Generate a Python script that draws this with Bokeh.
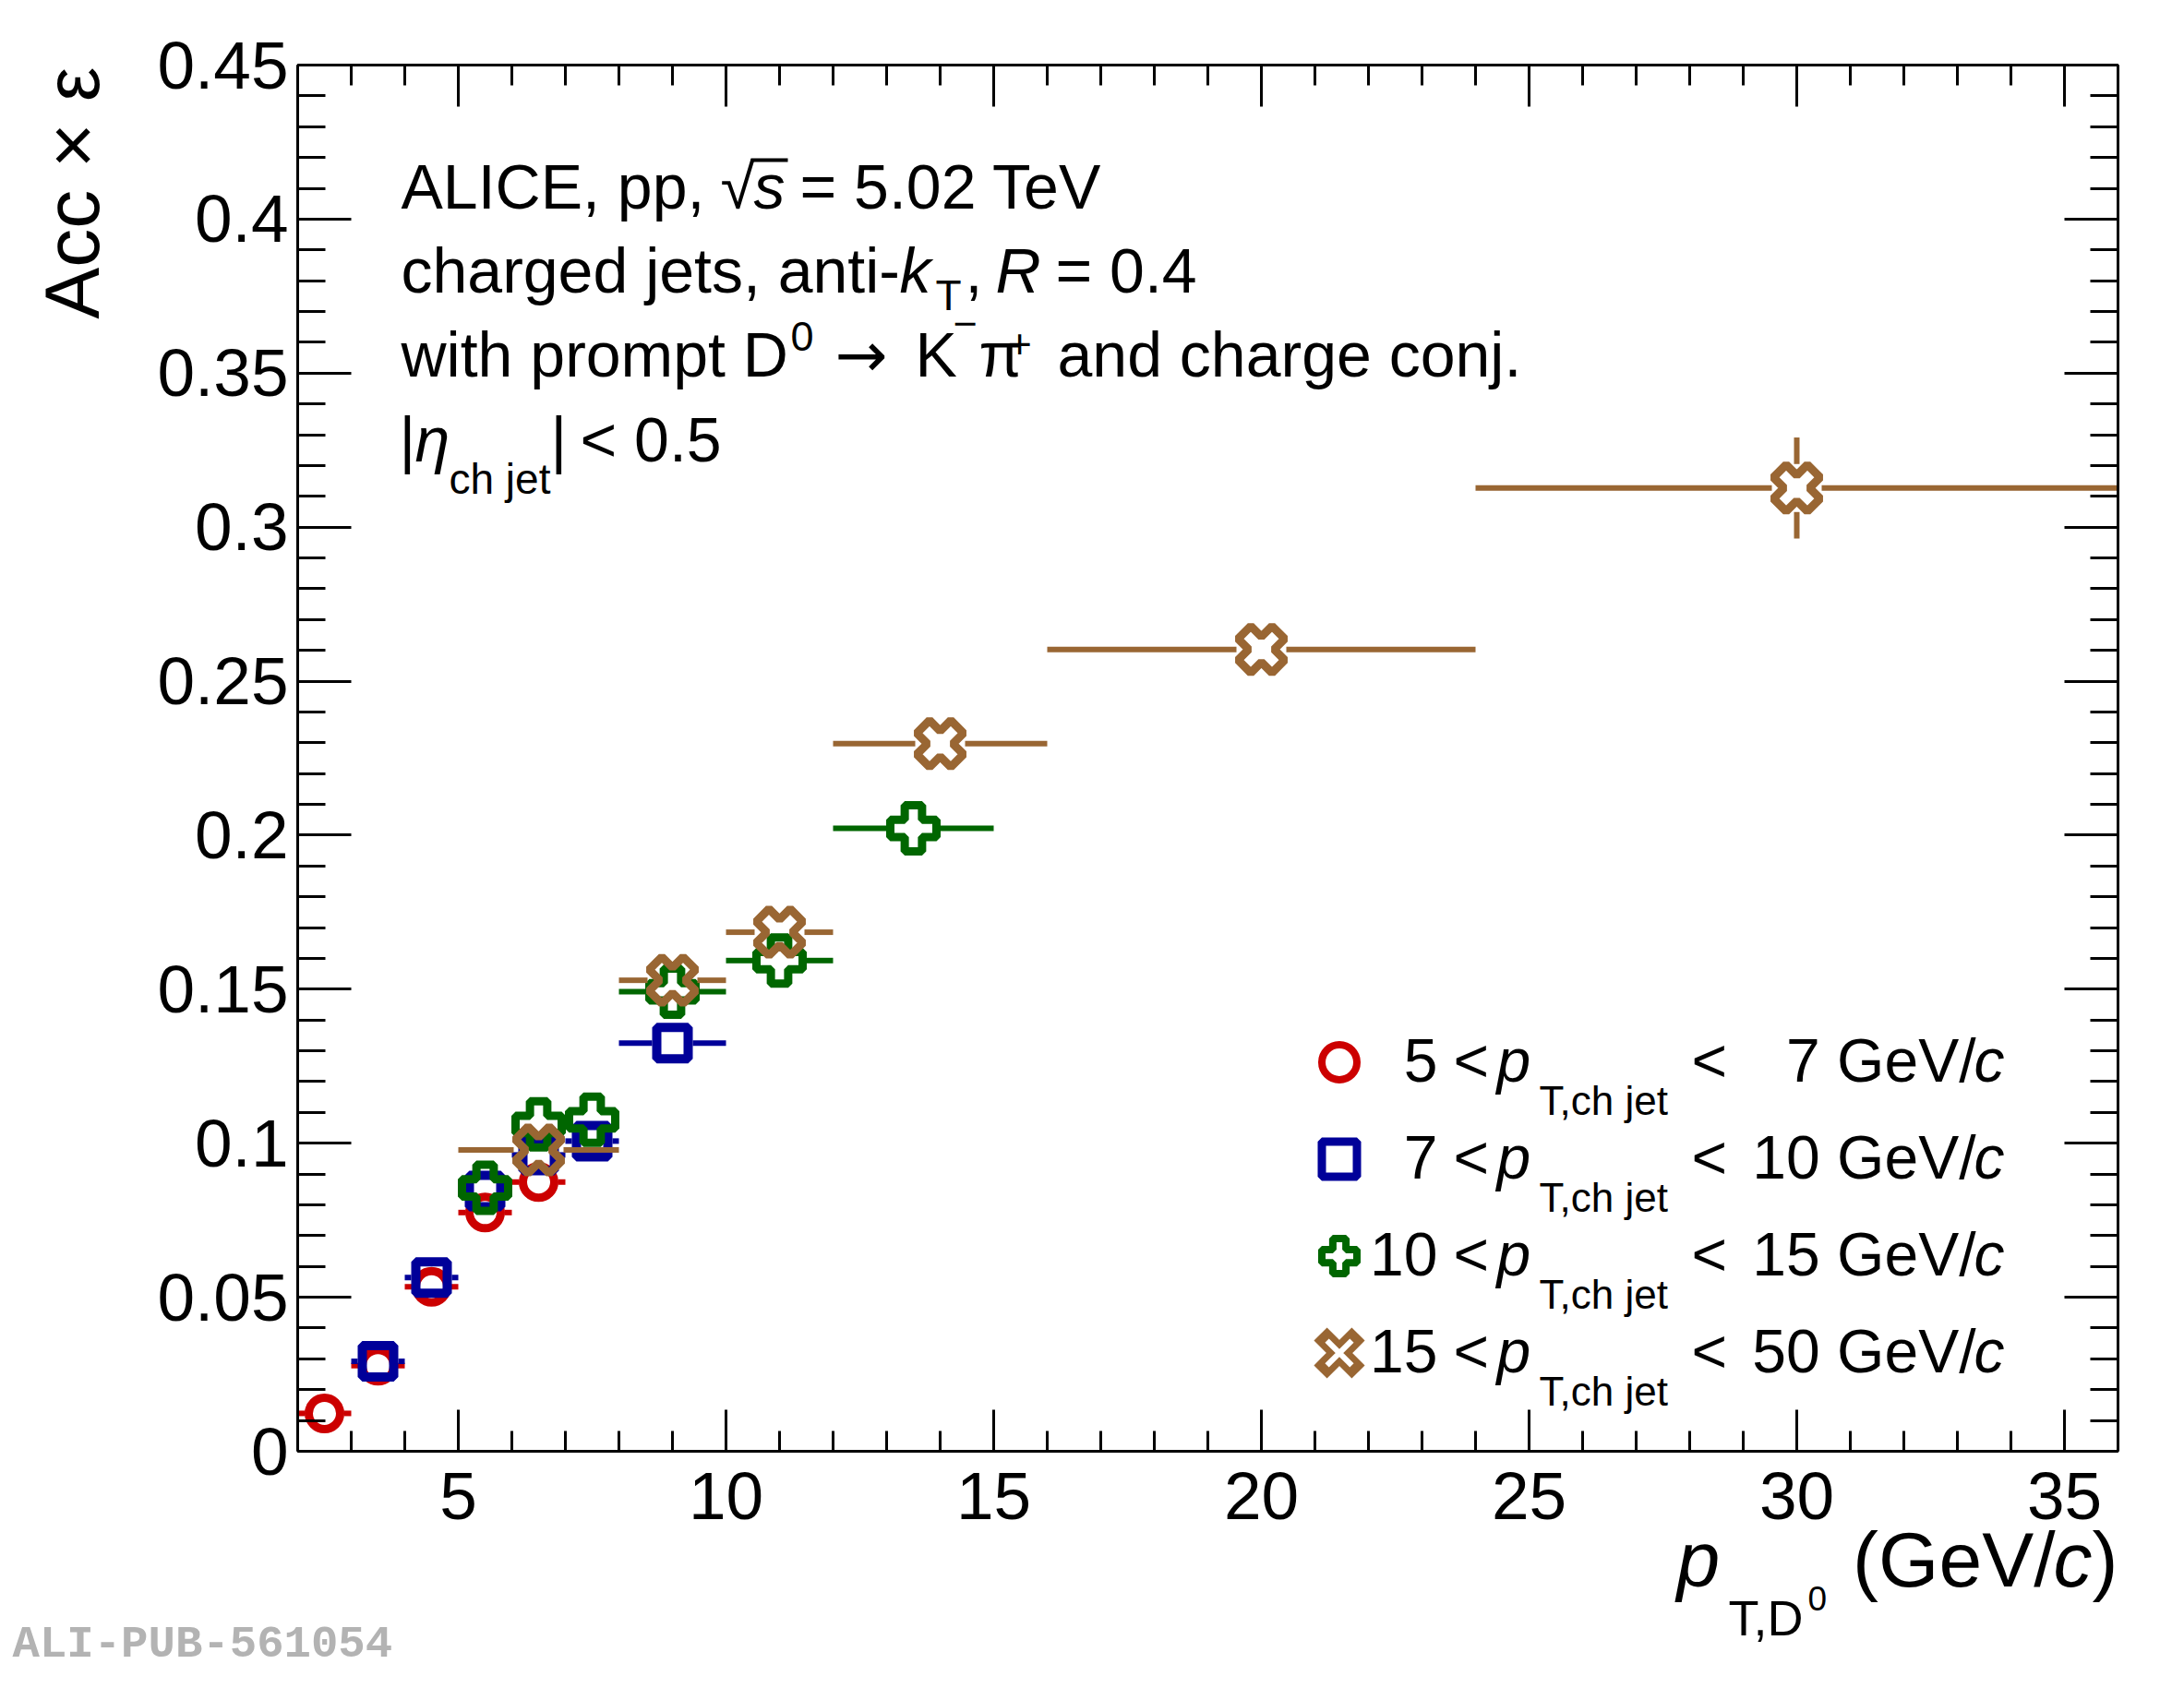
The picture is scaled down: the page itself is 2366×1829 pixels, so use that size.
import math
import numpy as np
from bokeh.plotting import figure
from bokeh.models import (Range1d, FixedTicker, CustomJSTickFormatter, LinearAxis,
                          Label, Legend, LegendItem, BoxAnnotation)
from bokeh.core.properties import value
from bokeh.embed import file_html
from bokeh.resources import INLINE

# ---------------- data ----------------
X_RANGE = (2, 36)
Y_RANGE = (0, 0.45)
X_TICKS = [5, 10, 15, 20, 25, 30, 35]
X_TICK_LABELS = ["5", "10", "15", "20", "25", "30", "35"]
X_MINOR = list(range(2, 37))
Y_TICKS = [0, 0.05, 0.1, 0.15, 0.2, 0.25, 0.3, 0.35, 0.4, 0.45]
Y_TICK_LABELS = ["0", "0.05", "0.1", "0.15", "0.2", "0.25", "0.3", "0.35", "0.4", "0.45"]
Y_MINOR = [round(0.01 * i, 2) for i in range(46)]

# 5 < pT,ch jet < 7 GeV/c
RED_X = [2.5, 3.5, 4.5, 5.5, 6.5]
RED_XLO = [2, 3, 4, 5, 6]
RED_XHI = [3, 4, 5, 6, 7]
RED_Y = [0.0123, 0.0278, 0.0534, 0.0775, 0.0874]
RED_YERR = [0.0006, 0.0008, 0.0010, 0.0012, 0.0015]

# 7 < pT,ch jet < 10 GeV/c
BLUE_X = [3.5, 4.5, 5.5, 6.5, 7.5, 9.0]
BLUE_XLO = [3, 4, 5, 6, 7, 8]
BLUE_XHI = [4, 5, 6, 7, 8, 10]
BLUE_Y = [0.0292, 0.0564, 0.0845, 0.0962, 0.1007, 0.1325]
BLUE_YERR = [0.0008, 0.0010, 0.0012, 0.0014, 0.0016, 0.0020]

# 10 < pT,ch jet < 15 GeV/c
GREEN_X = [5.5, 6.5, 7.5, 9.0, 11.0, 13.5]
GREEN_XLO = [5, 6, 7, 8, 10, 12]
GREEN_XHI = [6, 7, 8, 10, 12, 15]
GREEN_Y = [0.0855, 0.1061, 0.1076, 0.1492, 0.1593, 0.2022]
GREEN_YERR = [0.0015, 0.0018, 0.0020, 0.0025, 0.0030, 0.0040]

# 15 < pT,ch jet < 50 GeV/c
BROWN_X = [6.5, 9.0, 11.0, 14.0, 20.0, 30.0]
BROWN_XLO = [5, 8, 10, 12, 16, 24]
BROWN_XHI = [8, 10, 12, 16, 24, 36]
BROWN_Y = [0.0978, 0.1529, 0.1685, 0.2297, 0.2603, 0.3127]
BROWN_YERR = [0.0040, 0.0075, 0.0050, 0.0040, 0.0050, 0.0164]

LEG_LOW = ["5", "7", "10", "15"]
LEG_HIGH = ["7", "10", "15", "50"]

RED, BLUE, GREEN, BROWN = "#cc0000", "#000099", "#006600", "#996633"
FONT = "Liberation Sans"

# ---------------- layout ----------------
# The Bokeh frame fills the whole canvas; the visible plot box is drawn by four
# axes pinned (fixed_location) to the edges of the data window.
W, H = 2350, 1813
BL, BT, FW, FH = 322, 70, 1972, 1502          # plot box inside the canvas
BR = W - BL - FW
BB = H - BT - FH
PX_X = FW / (X_RANGE[1] - X_RANGE[0])
PX_Y = FH / (Y_RANGE[1] - Y_RANGE[0])
XR = Range1d(X_RANGE[0] - BL / PX_X, X_RANGE[1] + BR / PX_X)
YR = Range1d(Y_RANGE[0] - BB / PX_Y, Y_RANGE[1] + BT / PX_Y)
MID = 0.36  # baseline -> text middle, as a fraction of the font size

p = figure(width=W, height=H, x_range=XR, y_range=YR,
           output_backend="svg", toolbar_location=None,
           x_axis_location=None, y_axis_location=None,
           min_border_left=0, min_border_right=0, min_border_top=0, min_border_bottom=0)
p.xgrid.visible = False
p.ygrid.visible = False
p.outline_line_color = None
p.background_fill_color = "white"
p.border_fill_color = "white"

def tick_fmt(tk, lb):
    return CustomJSTickFormatter(args=dict(tk=tk, lb=lb),
        code="const i = tk.findIndex(t => Math.abs(t - tick) < 1e-9); return i >= 0 ? lb[i] : '';")

blank = CustomJSTickFormatter(code="return '';")

def make_axis(is_x, labels, loc):
    ax = LinearAxis(fixed_location=loc)
    ax.axis_line_width = 3
    ax.major_tick_line_width = 3
    ax.minor_tick_line_width = 3
    ax.major_tick_out = 0
    ax.minor_tick_out = 0
    if is_x:
        ax.bounds = X_RANGE
        ax.major_tick_in = 45
        ax.minor_tick_in = 22
        ax.ticker = FixedTicker(ticks=X_TICKS, minor_ticks=X_MINOR)
        ax.formatter = tick_fmt(X_TICKS, X_TICK_LABELS) if labels else blank
        ax.major_label_standoff = 23
    else:
        ax.bounds = Y_RANGE
        ax.major_tick_in = 58
        ax.minor_tick_in = 30
        ax.ticker = FixedTicker(ticks=Y_TICKS, minor_ticks=Y_MINOR)
        ax.formatter = tick_fmt(Y_TICKS, Y_TICK_LABELS) if labels else blank
        ax.major_label_standoff = 10
    ax.major_label_text_font = FONT
    ax.major_label_text_font_size = "73px" if labels else "1px"
    ax.major_label_text_color = "black"
    return ax

p.add_layout(make_axis(True, True, Y_RANGE[0]), "below")
p.add_layout(make_axis(True, False, Y_RANGE[1]), "above")
p.add_layout(make_axis(False, True, X_RANGE[0]), "left")
p.add_layout(make_axis(False, False, X_RANGE[1]), "right")

# ---------------- error bars & markers ----------------
def error_bars(xs, ys, xlo, xhi, yerr, color, gx_px, gy_px):
    gx = gx_px / PX_X
    gy = gy_px / PX_Y
    x0, x1, y0, y1 = [], [], [], []
    for x, y, lo, hi, e in zip(xs, ys, xlo, xhi, yerr):
        if x - gx > lo:
            x0 += [lo]; x1 += [x - gx]; y0 += [y]; y1 += [y]
        if x + gx < hi:
            x0 += [x + gx]; x1 += [hi]; y0 += [y]; y1 += [y]
        if e > gy:
            x0 += [x, x]; x1 += [x, x]; y0 += [y - e, y + gy]; y1 += [y - gy, y + e]
    p.segment(x0=x0, y0=y0, x1=x1, y1=y1, line_color=color, line_width=6, line_cap="butt")

error_bars(RED_X, RED_Y, RED_XLO, RED_XHI, RED_YERR, RED, 21, 21)
r_red = p.scatter(RED_X, RED_Y, marker="circle", size=34, line_width=9,
                  line_color=RED, fill_color=None)
error_bars(BLUE_X, BLUE_Y, BLUE_XLO, BLUE_XHI, BLUE_YERR, BLUE, 22, 22)
r_blue = p.scatter(BLUE_X, BLUE_Y, marker="square", size=34, line_width=10,
                   line_color=BLUE, fill_color=None)
error_bars(GREEN_X, GREEN_Y, GREEN_XLO, GREEN_XHI, GREEN_YERR, GREEN, 28, 28)
r_green = p.scatter(GREEN_X, GREEN_Y, marker="plus", size=50, line_width=9,
                    line_color=GREEN, fill_color=None)
error_bars(BROWN_X, BROWN_Y, BROWN_XLO, BROWN_XHI, BROWN_YERR, BROWN, 27, 26)
r_brown = p.scatter(BROWN_X, BROWN_Y, marker="plus", angle=math.pi / 4, size=52, line_width=9,
                    line_color=BROWN, fill_color=None)

# legend glyph renderers (hidden in the plot, drawn only in the legend)
lg_red = p.scatter(RED_X, RED_Y, marker="circle", size=34, line_width=8,
                   line_color=RED, fill_color=None, visible=False)
lg_blue = p.scatter(BLUE_X, BLUE_Y, marker="square", size=34, line_width=9,
                    line_color=BLUE, fill_color=None, visible=False)
lg_green = p.scatter(GREEN_X, GREEN_Y, marker="plus", size=40, line_width=8,
                     line_color=GREEN, fill_color=None, visible=False)
lg_brown1 = p.scatter(BROWN_X, BROWN_Y, marker="x", size=40, line_width=20,
                      line_color=BROWN, line_cap="square", visible=False)
lg_brown2 = p.scatter(BROWN_X, BROWN_Y, marker="x", size=40, line_width=6,
                      line_color="white", line_cap="butt", visible=False)

LEG_W = 95
legend = Legend(items=[LegendItem(label=value(""), renderers=[lg_red]),
                       LegendItem(label=value(""), renderers=[lg_blue]),
                       LegendItem(label=value(""), renderers=[lg_green]),
                       LegendItem(label=value(""), renderers=[lg_brown1, lg_brown2])],
                location=(1450 - LEG_W / 2, H - 1465 - LEG_W / 2), orientation="vertical",
                glyph_width=LEG_W, glyph_height=LEG_W, spacing=10, padding=0, margin=0,
                label_width=0, label_height=0, label_standoff=0,
                label_text_font_size="1px", border_line_color=None,
                background_fill_alpha=0)
p.add_layout(legend)

# ---------------- texts ----------------
def put(x, y, text, size, style="normal", align="left", angle=0.0, color="black", font=FONT):
    """x: left/right edge, y: text baseline, both in canvas pixels."""
    if angle:
        lx, ly = x - MID * size, y
    else:
        lx, ly = x, y - MID * size
    p.add_layout(Label(x=lx, y=ly, x_units="canvas", y_units="canvas", text=text,
                       text_font=font, text_font_size=f"{size}px", text_font_style=style,
                       text_align=align, text_baseline="middle", angle=angle,
                       text_color=color))

# info block
put(434, 226, "ALICE, pp, ", 68)
put(780, 226, "\u221a", 68)
put(816, 226, "s", 68, "italic")
p.add_layout(BoxAnnotation(left=813, right=853, top=171, bottom=175,
                           left_units="canvas", right_units="canvas",
                           top_units="canvas", bottom_units="canvas",
                           fill_color="black", fill_alpha=1, line_color=None))
put(866, 226, "= 5.02 TeV", 68)

put(434, 317, "charged jets, anti-", 68)
put(974, 317, "k", 68, "italic")
put(1013, 336, "T", 46)
put(1045, 317, ",", 68)
put(1078, 317, "R", 68, "italic")
put(1143, 317, "= 0.4", 68)

put(434, 408, "with prompt D", 68)
put(856, 380, "0", 45)
put(904, 408, "\u2192", 68, font="DejaVu Sans")
put(991, 408, "K", 68)
put(1032, 366, "\u2212", 45)
put(1060, 408, "\u03c0", 68)
put(1091, 388, "+", 45)
put(1145, 408, "and charge conj.", 68)

put(432, 500, "|", 68)
put(449, 500, "\u03b7", 68, "italic")
put(486, 535, "ch jet", 46)
put(596, 500, "|", 68)
put(628, 500, "< 0.5", 68)

# legend texts
for i, (lo, hi) in enumerate(zip(LEG_LOW, LEG_HIGH)):
    b = 1172 + i * 105
    put(1557, b, lo, 66, align="right")
    put(1574, b, "<", 66)
    put(1621, b, "p", 66, "italic")
    put(1667, b + 36, "T,ch jet", 44)
    put(1832, b, "<", 66)
    put(2140, b, f"{hi} GeV/", 66, align="right")
    put(2138, b, "c", 66, "italic")

# axis titles
put(1816, 1720, "p", 84, "italic")
put(1872, 1772, "T,D", 54)
put(1958, 1745, "0", 37)
put(2226, 1720, "(GeV/", 84, align="right")
put(2224, 1720, "c", 84, "italic")
put(2266, 1720, ")", 84)
put(108, 72, "Acc \u00d7 \u03b5", 84, align="right", angle=math.pi / 2)

put(13, 1799, "ALI-PUB-561054", 49, "bold", color="#b3b3b3", font="Liberation Mono")

open("out.html", "w").write(file_html(p, INLINE))
